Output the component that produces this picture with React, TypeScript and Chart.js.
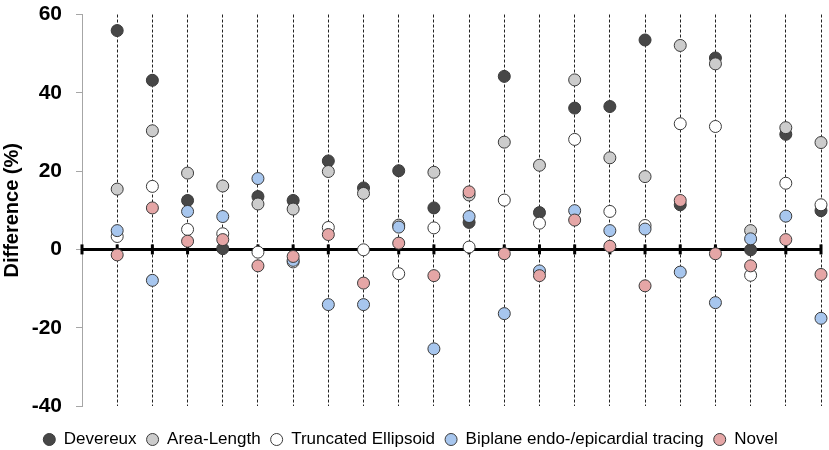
import { useEffect, useRef } from "react";
import { Chart, registerables, ChartConfiguration, Plugin } from "chart.js";

Chart.register(...registerables);

// 21 cases along the x axis (drawn at x = 1..21)
const cases = Array.from({ length: 21 }, (_, i) => i + 1);

const devereux = [55.9, 43.2, 12.5, 0.2, 13.5, 12.5, 22.6, 15.7, 20.1, 10.6, 6.9, 44.2, 9.4, 36.1, 36.5, 53.5, 11.4, 48.9, -0.1, 29.4, 9.9];
const areaLength = [15.4, 30.3, 19.5, 16.2, 11.6, 10.3, 19.9, 14.3, 6.2, 19.7, 13.9, 27.4, 21.5, 43.3, 23.4, 18.6, 52.1, 47.4, 4.8, 31.1, 27.3];
const truncated = [3.3, 16.1, 5.1, 4.0, -0.7, -3.2, 5.6, -0.1, -6.2, 5.5, 0.6, 12.6, 6.7, 28.1, 9.7, 6.1, 32.1, 31.4, -6.6, 16.9, 11.4];
const biplane = [4.8, -7.9, 9.7, 8.4, 18.1, -2.8, -14.1, -14.1, 5.7, -25.4, 8.4, -16.4, -5.5, 9.9, 4.8, 5.2, -5.8, -13.6, 2.7, 8.5, -17.6];
const novel = [-1.4, 10.6, 2.1, 2.5, -4.2, -1.8, 3.8, -8.6, 1.6, -6.7, 14.7, -1.1, -6.7, 7.5, 0.8, -9.3, 12.5, -1.1, -4.2, 2.5, -6.4];

const yTicks = [-40, -20, 0, 20, 40, 60];

const FONT = "'Liberation Sans', Arial, sans-serif";

const toPoints = (vals: number[]) => vals.map((v, i) => ({ x: cases[i], y: v }));

// thick black zero line with small tick marks at every case
const zeroLine: Plugin = {
  id: "zeroLine",
  beforeDatasetsDraw(chart) {
    const { ctx, scales } = chart;
    const x = scales.x;
    const y = scales.y;
    const y0 = y.getPixelForValue(0);
    ctx.save();
    ctx.strokeStyle = "#000";
    ctx.lineWidth = 3;
    ctx.beginPath();
    ctx.moveTo(x.getPixelForValue(0), y0);
    ctx.lineTo(x.getPixelForValue(cases[cases.length - 1]), y0);
    ctx.stroke();
    ctx.fillStyle = "#000";
    [0, ...cases].forEach((c) => {
      const px = x.getPixelForValue(c);
      ctx.fillRect(px - 1.5, y0 - 5, 3, 10);
    });
    ctx.restore();
  },
};

const App = () => {
  const canvasRef = useRef<HTMLCanvasElement | null>(null);
  const chartRef = useRef<Chart | null>(null);

  useEffect(() => {
    if (chartRef.current) chartRef.current.destroy();
    const ctx = canvasRef.current?.getContext("2d");
    if (!ctx) return;

    const mk = (label: string, data: number[], fill: string, order: number) => ({
      label,
      data: toPoints(data),
      backgroundColor: fill,
      borderColor: "#3a3a3a",
      borderWidth: 1,
      pointRadius: 6,
      pointStyle: "circle",
      order,
      clip: false,
    });

    const config = {
      type: "scatter",
      data: {
        datasets: [
          mk("Devereux", devereux, "#474747", 5),
          mk("Area-Length", areaLength, "#cccccc", 4),
          mk("Truncated Ellipsoid", truncated, "#ffffff", 3),
          mk("Biplane endo-/epicardial tracing", biplane, "#a7c6ee", 2),
          mk("Novel", novel, "#e5a6a6", 1),
        ],
      },
      options: {
        animation: false,
        responsive: true,
        maintainAspectRatio: false,
        layout: { padding: { top: 0, right: 8, left: 0, bottom: -8 } },
        plugins: {
          tooltip: { enabled: false },
          legend: {
            position: "bottom",
            reverse: true,
            labels: {
              usePointStyle: true,
              pointStyle: "circle",
              boxHeight: 8.5,
              pointStyleWidth: 12,
              padding: 10,
              color: "#000",
              font: { family: FONT, size: 17 },
            },
          },
        },
        scales: {
          x: {
            type: "linear",
            min: 0,
            max: cases[cases.length - 1],
            ticks: { display: false, stepSize: 1 },
            border: { display: false, dash: [3, 2] },
            afterFit: (scale: any) => {
              scale.height = 15;
            },
            grid: {
              drawTicks: false,
              color: (c: any) => (c.tick && c.tick.value === 0 ? "transparent" : "#222"),
              lineWidth: 1,
            },
          },
          y: {
            min: yTicks[0],
            max: yTicks[yTicks.length - 1],
            afterBuildTicks: (scale: any) => {
              scale.ticks = yTicks.map((v) => ({ value: v }));
            },
            afterFit: (scale: any) => {
              scale.width = 82;
            },
            border: { color: "#a6a6a6", width: 1 },
            grid: {
              drawOnChartArea: false,
              tickLength: 6,
              tickColor: "#a6a6a6",
              tickWidth: 1,
            },
            ticks: {
              padding: 14,
              color: "#000",
              font: { family: FONT, size: 21, weight: "bold", lineHeight: 0.05 },
            },
            title: {
              display: true,
              text: "Difference (%)",
              color: "#000",
              padding: { top: 0, bottom: 0 },
              font: { family: FONT, size: 20, weight: "bold" },
            },
          },
        },
      },
      plugins: [zeroLine],
    } as unknown as ChartConfiguration;

    chartRef.current = new Chart(ctx, config);
    return () => {
      chartRef.current?.destroy();
      chartRef.current = null;
    };
  }, []);

  return (
    <div style={{ position: "absolute", left: 0, top: 0, width: 829, height: 450, background: "#fff" }}>
      <canvas ref={canvasRef} />
    </div>
  );
};

export default App;
